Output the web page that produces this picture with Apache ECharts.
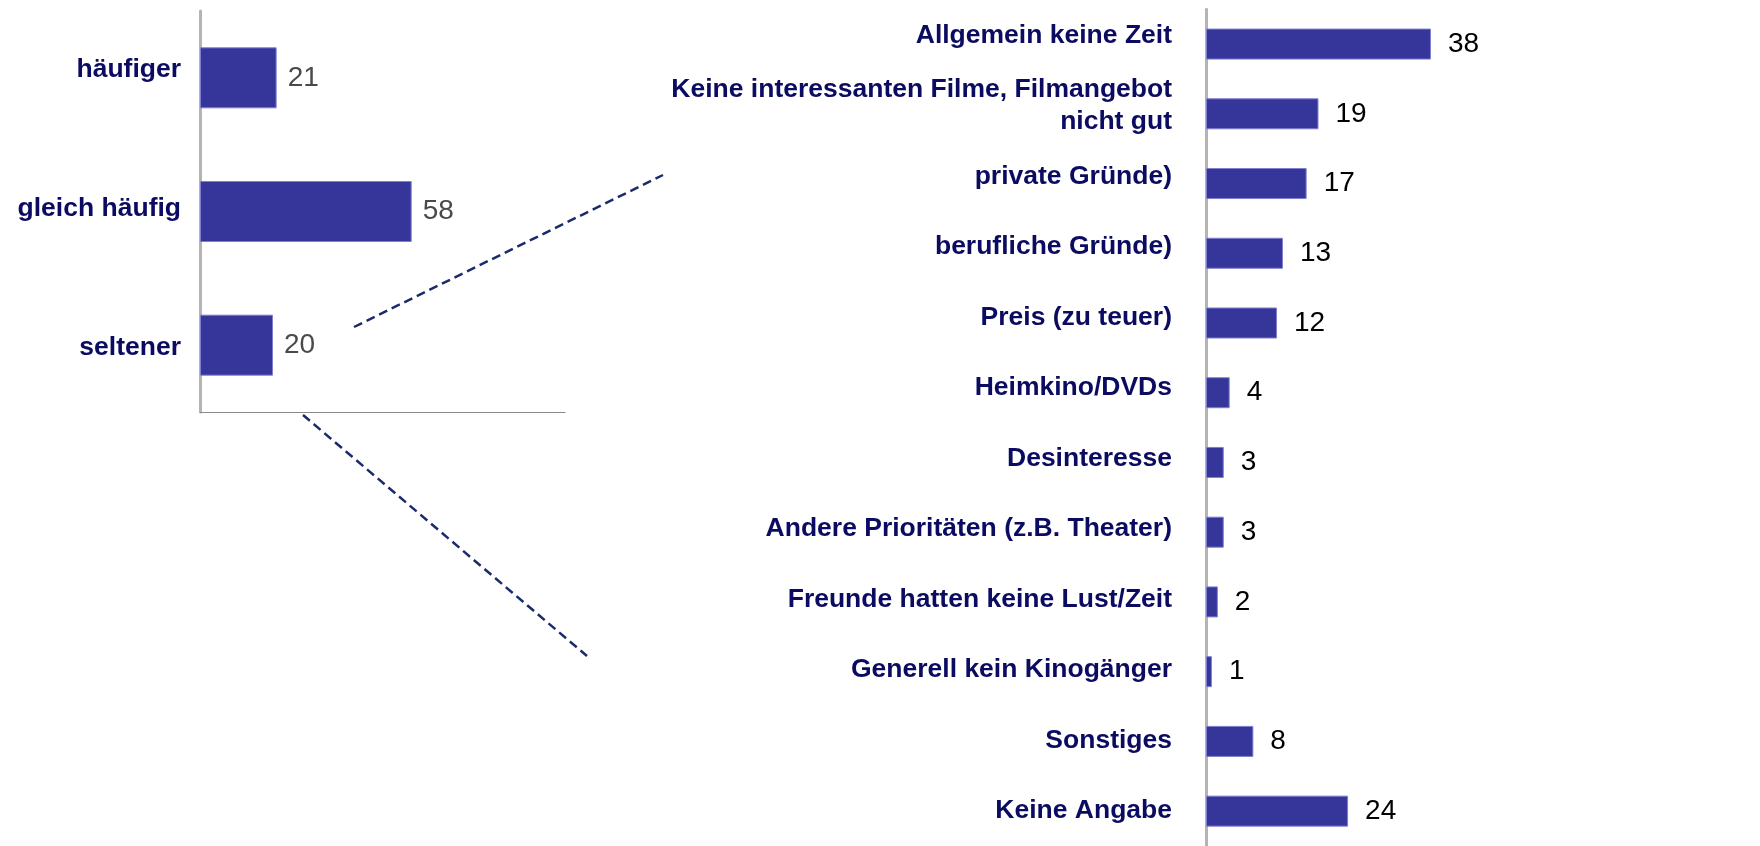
<!DOCTYPE html>
<html>
<head>
<meta charset="utf-8">
<script src="https://cdn.jsdelivr.net/npm/echarts@6/dist/echarts.min.js"></script>
<style>
html,body{margin:0;padding:0;background:#fff;}
#chart{width:1760px;height:846px;}
</style>
</head>
<body>
<div id="chart"></div>
<script>
// Left chart: frequency compared
const freqCategories = ['häufiger', 'gleich häufig', 'seltener'];
const freqValues = [21, 58, 20];

// Right chart: reasons
const reasonCategories = [
  'Allgemein keine Zeit',
  'Keine interessanten Filme, Filmangebot\nnicht gut',
  'private Gründe)',
  'berufliche Gründe)',
  'Preis (zu teuer)',
  'Heimkino/DVDs',
  'Desinteresse',
  'Andere Prioritäten (z.B. Theater)',
  'Freunde hatten keine Lust/Zeit',
  'Generell kein Kinogänger',
  'Sonstiges',
  'Keine Angabe'
];
const reasonValues = [38, 19, 17, 13, 12, 4, 3, 3, 2, 1, 8, 24];

const FONT = "'Liberation Sans', Arial, Helvetica, sans-serif";
const NAVY = '#0b0b62';
const BAR = '#35359a';
const BAR_EDGE = '#7f7fcf';
const AXIS_GRAY = '#b4b4b4';

const chart = echarts.init(document.getElementById('chart'), null, {renderer: 'canvas'});

const labelAxis = (gridIndex, data, margin) => ({
  type: 'category', gridIndex: gridIndex, data: data, inverse: true,
  axisLine: {show: false}, axisTick: {show: false}, splitLine: {show: false},
  axisLabel: {
    show: true, margin: margin, fontFamily: FONT, fontSize: 26.5, fontWeight: 'bold',
    color: NAVY, lineHeight: 32, align: 'right'
  }
});

const barAxis = (gridIndex, data) => ({
  type: 'category', gridIndex: gridIndex, data: data, inverse: true,
  axisLine: {show: true, lineStyle: {color: AXIS_GRAY, width: 3}},
  axisTick: {show: false}, axisLabel: {show: false}, splitLine: {show: false}
});

const hiddenX = (gridIndex, max) => ({
  type: 'value', gridIndex: gridIndex, min: 0, max: max, show: false,
  splitLine: {show: false}
});

chart.setOption({
  animation: false,
  backgroundColor: '#ffffff',
  grid: [
    {left: 200, top: 11, width: 365, height: 401},          // left bars
    {left: 200, top: -9.1, width: 365, height: 426.5},      // left labels
    {left: 1206, top: 9.2, width: 296, height: 840.6},      // right bars
    {left: 1206, top: -2.6, width: 296, height: 854.4}      // right labels
  ],
  xAxis: [
    {
      type: 'value', gridIndex: 0, min: 0, max: 100,
      axisLine: {show: true, lineStyle: {color: '#8a8a8a', width: 1}},
      axisTick: {show: false}, axisLabel: {show: false}, splitLine: {show: false}
    },
    hiddenX(1, 100),
    hiddenX(2, 50),
    hiddenX(3, 50)
  ],
  yAxis: [
    barAxis(0, freqCategories),
    labelAxis(1, freqCategories, 19),
    barAxis(2, reasonCategories),
    labelAxis(3, reasonCategories, 34)
  ],
  series: [
    {
      type: 'bar', xAxisIndex: 0, yAxisIndex: 0, data: freqValues,
      barWidth: 61,
      itemStyle: {color: BAR, borderColor: BAR_EDGE, borderWidth: 1},
      label: {
        show: true, position: 'right', distance: 11,
        fontFamily: FONT, fontSize: 28, color: '#4a4a4a'
      }
    },
    {
      type: 'bar', xAxisIndex: 2, yAxisIndex: 2, data: reasonValues,
      barWidth: 31,
      itemStyle: {color: BAR, borderColor: BAR_EDGE, borderWidth: 1},
      label: {
        show: true, position: 'right', distance: 17,
        fontFamily: FONT, fontSize: 28, color: '#000000'
      }
    }
  ],
  graphic: [
    {
      type: 'line', silent: true,
      shape: {x1: 354, y1: 327, x2: 663, y2: 175},
      style: {stroke: '#1a2a6b', lineWidth: 2.5, lineDash: [9, 5]}
    },
    {
      type: 'line', silent: true,
      shape: {x1: 303, y1: 415, x2: 587, y2: 656},
      style: {stroke: '#1a2a6b', lineWidth: 2.5, lineDash: [9, 5]}
    }
  ]
});
</script>
</body>
</html>
